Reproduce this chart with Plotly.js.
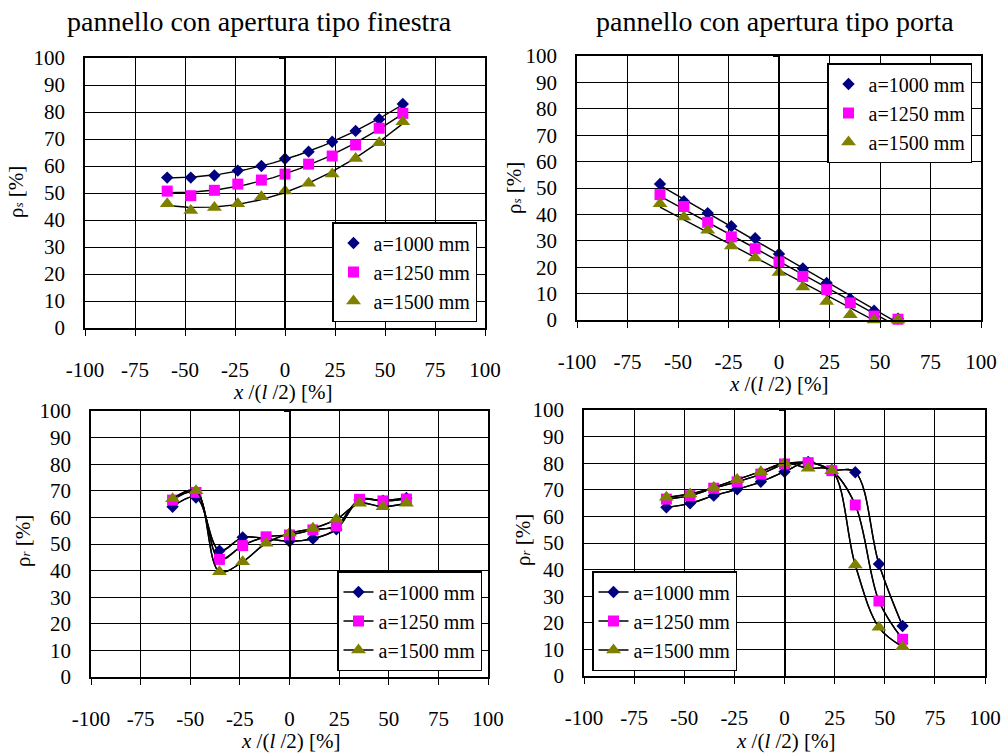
<!DOCTYPE html>
<html>
<head>
<meta charset="utf-8">
<script src="https://cdn.plot.ly/plotly-3.0.1.min.js"></script>
<style>
  html, body { margin: 0; padding: 0; background: #fff; font-family: 'Liberation Serif'; }
  #chart { width: 1004px; height: 754px; }
</style>
</head>
<body>
<div id="chart"></div>
<script>
// Measuring positions along the panel, x/(l/2) [%]
const xPos = [-58.9, -47.1, -35.3, -23.6, -11.8, 0, 11.8, 23.6, 35.3, 47.1, 58.9];
const seriesNames = ['a=1000 mm', 'a=1250 mm', 'a=1500 mm'];
const xTicks = [-100, -75, -50, -25, 0, 25, 50, 75, 100];
const yTicks = [0, 10, 20, 30, 40, 50, 60, 70, 80, 90, 100];

// rho_s [%] – panel with window-type opening
const rhoS_fin_1000 = [55.7, 55.7, 56.5, 58.3, 60.0, 62.7, 65.3, 69.0, 73.0, 77.3, 83.0];
const rhoS_fin_1250 = [50.7, 49.0, 51.0, 53.3, 54.8, 57.0, 60.7, 63.7, 67.8, 74.0, 79.5];
const rhoS_fin_1500 = [46.0, 43.5, 44.6, 46.0, 48.6, 50.7, 53.6, 57.0, 62.8, 68.6, 76.4];

// rho_s [%] – panel with door-type opening
const rhoS_por_1000 = [51.5, 45.0, 40.5, 35.5, 31.0, 25.0, 19.5, 14.0, 8.0, 3.5, 0.5];
const rhoS_por_1250 = [47.5, 43.0, 37.0, 31.5, 27.0, 22.0, 16.5, 11.5, 6.5, 1.5, 0.3];
const rhoS_por_1500 = [44.0, 39.0, 34.0, 28.0, 23.5, 18.0, 12.5, 7.0, 2.0, 0.0, 0.0];

// rho_r [%] – panel with window-type opening
const rhoR_fin_1000 = [64.0, 67.5, 47.5, 52.5, 52.0, 51.0, 52.0, 55.5, 66.5, 66.3, 67.3];
const rhoR_fin_1250 = [66.5, 69.4, 44.2, 49.4, 52.7, 53.4, 55.3, 56.8, 66.8, 66.2, 66.9];
const rhoR_fin_1500 = [67.0, 70.0, 39.6, 43.3, 50.3, 54.0, 55.9, 59.3, 65.3, 64.0, 65.3];

// rho_r [%] – panel with door-type opening
const rhoR_por_1000 = [63.4, 64.9, 67.8, 70.2, 73.0, 76.8, 80.5, 77.5, 76.6, 42.1, 18.8];
const rhoR_por_1250 = [66.5, 67.8, 70.6, 73.0, 75.9, 79.7, 80.2, 77.2, 64.3, 28.2, 13.8];
const rhoR_por_1500 = [67.2, 68.4, 70.9, 73.9, 76.8, 80.0, 78.1, 77.2, 41.7, 18.3, 11.0];

const FONT = 'Liberation Serif';
const W = 1004, H = 754;
const fx = p => p / W;
const fy = p => 1 - p / H;

const markerStyles = [
  { symbol: 'diamond', color: '#000080', size: 9.5 },
  { symbol: 'square', color: '#FF00FF', size: 11 },
  { symbol: 'triangle-up', color: '#808000', size: 13 }
];

// Least-squares polynomial trend line
function polyFit(xs, ys, order) {
  const n = order + 1;
  const A = Array.from({ length: n }, () => new Array(n + 1).fill(0));
  for (let k = 0; k < xs.length; k++) {
    for (let i = 0; i < n; i++) {
      for (let j = 0; j < n; j++) A[i][j] += Math.pow(xs[k], i + j);
      A[i][n] += ys[k] * Math.pow(xs[k], i);
    }
  }
  for (let i = 0; i < n; i++) {
    let p = i;
    for (let r = i + 1; r < n; r++) if (Math.abs(A[r][i]) > Math.abs(A[p][i])) p = r;
    [A[i], A[p]] = [A[p], A[i]];
    for (let r = 0; r < n; r++) {
      if (r === i) continue;
      const f = A[r][i] / A[i][i];
      for (let c = i; c <= n; c++) A[r][c] -= f * A[i][c];
    }
  }
  return A.map((row, i) => row[n] / row[i]);
}
function trendCurve(xs, ys, order) {
  const c = polyFit(xs, ys, order);
  const x0 = xs[0], x1 = xs[xs.length - 1], steps = 80;
  const cx = [], cy = [];
  for (let i = 0; i <= steps; i++) {
    const x = x0 + (x1 - x0) * i / steps;
    cx.push(x);
    cy.push(c.reduce((s, ci, k) => s + ci * Math.pow(x, k), 0));
  }
  return { x: cx, y: cy };
}

// Panel frames in page pixels
const panels = [
  { left: 85,  right: 485, top: 58,  bottom: 328, data: [rhoS_fin_1000, rhoS_fin_1250, rhoS_fin_1500], kind: 'trend', order: 2,
    legend: { x: fx(477), xanchor: 'right', y: fy(222), yanchor: 'top' } },
  { left: 577, right: 981, top: 56,  bottom: 320, data: [rhoS_por_1000, rhoS_por_1250, rhoS_por_1500], kind: 'trend', order: 1,
    legend: { x: fx(972), xanchor: 'right', y: fy(63), yanchor: 'top' } },
  { left: 91,  right: 488, top: 411, bottom: 677, data: [rhoR_fin_1000, rhoR_fin_1250, rhoR_fin_1500], kind: 'smooth',
    legend: { x: fx(482), xanchor: 'right', y: fy(571), yanchor: 'top' } },
  { left: 584, right: 985, top: 410, bottom: 676, data: [rhoR_por_1000, rhoR_por_1250, rhoR_por_1500], kind: 'smooth',
    legend: { x: fx(592), xanchor: 'left', y: fy(571), yanchor: 'top' } }
];

const traces = [];
const layout = {
  width: W, height: H,
  margin: { l: 0, r: 0, t: 0, b: 0 },
  paper_bgcolor: 'white', plot_bgcolor: 'white',
  showlegend: true,
  annotations: []
};

panels.forEach((p, idx) => {
  const n = idx + 1;
  const xName = n === 1 ? 'x' : 'x' + n;
  const yName = n === 1 ? 'y' : 'y' + n;
  const yMid = 'y' + (n + 4);
  const legendName = n === 1 ? 'legend' : 'legend' + n;

  layout[n === 1 ? 'xaxis' : 'xaxis' + n] = {
    domain: [fx(p.left), fx(p.right)], anchor: yName,
    range: [-100, 100], tickmode: 'array', tickvals: xTicks, ticktext: xTicks.map(String),
    showgrid: true, gridcolor: 'black', gridwidth: 1.3, zeroline: false,
    showline: true, mirror: true, linecolor: 'black', linewidth: 1.5,
    ticks: 'outside', ticklen: 6, tickwidth: 1.3, tickcolor: 'black',
    ticklabelstandoff: 16,
    tickfont: { family: FONT, size: 21, color: 'black' },
    fixedrange: true
  };
  layout[n === 1 ? 'yaxis' : 'yaxis' + n] = {
    domain: [fy(p.bottom), fy(p.top)], anchor: xName,
    range: [0, 100], tickmode: 'array', tickvals: yTicks, ticktext: yTicks.map(String),
    showgrid: true, gridcolor: 'black', gridwidth: 1.3, zeroline: false,
    showline: true, mirror: true, linecolor: 'black', linewidth: 1.5,
    ticks: '', ticklabelstandoff: 14,
    tickfont: { family: FONT, size: 21, color: 'black' },
    fixedrange: true
  };
  // Value axis crossing at x = 0
  layout['yaxis' + (n + 4)] = {
    overlaying: yName, anchor: 'free', position: fx((p.left + p.right) / 2),
    domain: [fy(p.bottom), fy(p.top)],
    range: [0, 100], tickmode: 'array', tickvals: yTicks,
    showgrid: false, zeroline: false, showticklabels: false,
    showline: true, linecolor: 'black', linewidth: 1.8,
    ticks: 'outside', ticklen: 5, tickwidth: 1.3, tickcolor: 'black',
    fixedrange: true
  };

  layout[legendName] = Object.assign({
    bgcolor: 'white', bordercolor: 'black', borderwidth: 1.5,
    font: { family: FONT, size: 20, color: 'black' },
    itemwidth: 30, traceorder: 'grouped', tracegroupgap: 0
  }, p.legend);

  p.data.forEach((vals, s) => {
    const m = markerStyles[s];
    if (p.kind === 'trend') {
      // fitted trend line under the markers
      const t = trendCurve(xPos, vals, p.order);
      traces.push({
        type: 'scatter', mode: 'lines', x: t.x, y: t.y,
        xaxis: xName, yaxis: yName, showlegend: false, hoverinfo: 'skip',
        line: { color: 'black', width: 1.4 }
      });
      traces.push({
        type: 'scatter', mode: 'markers', x: xPos, y: vals, name: seriesNames[s],
        xaxis: xName, yaxis: yMid, legend: legendName, legendgroup: legendName + s,
        cliponaxis: false,
        marker: { symbol: m.symbol, color: m.color, size: m.size, line: { width: 0 } }
      });
    } else {
      // smoothed connecting line, then markers with their legend entry
      traces.push({
        type: 'scatter', mode: 'lines', x: xPos, y: vals,
        xaxis: xName, yaxis: yName, showlegend: false, hoverinfo: 'skip',
        line: { color: 'black', width: 1.4, shape: 'spline', smoothing: 1 }
      });
      traces.push({
        type: 'scatter', mode: 'lines+markers', x: xPos, y: vals, name: seriesNames[s],
        xaxis: xName, yaxis: yMid, legend: legendName, legendgroup: legendName + s,
        cliponaxis: false,
        line: { color: 'black', width: 1.4, shape: 'spline', smoothing: 1 },
        marker: { symbol: m.symbol, color: m.color, size: m.size, line: { width: 0 } }
      });
    }
  });
});

function label(text, x, y, size, angle) {
  layout.annotations.push({
    text: text, xref: 'paper', yref: 'paper', x: fx(x), y: fy(y),
    xanchor: 'center', yanchor: 'middle', showarrow: false, textangle: angle || 0,
    font: { family: FONT, size: size, color: 'black' }
  });
}

label('pannello con apertura tipo finestra', 259, 22, 28);
label('pannello con apertura tipo porta', 775, 22, 28);

const xTitle = '<i>x</i> /(<i>l</i> /2) [%]';
label(xTitle, 283, 392, 21);
label(xTitle, 779, 384, 21);
label(xTitle, 291, 741, 21);
label(xTitle, 786, 741, 21);

const rhoS = 'ρ<span style="font-size:13px"><i>s</i></span> [%]';
const rhoR = 'ρ<span style="font-size:13px"><i>r</i></span> [%]';
label(rhoS, 16, 192, 21, -90);
label(rhoS, 514, 188, 21, -90);
label(rhoR, 23, 541, 21, -90);
label(rhoR, 523, 540, 21, -90);

Plotly.newPlot('chart', traces, layout, { displayModeBar: false });
</script>
</body>
</html>
